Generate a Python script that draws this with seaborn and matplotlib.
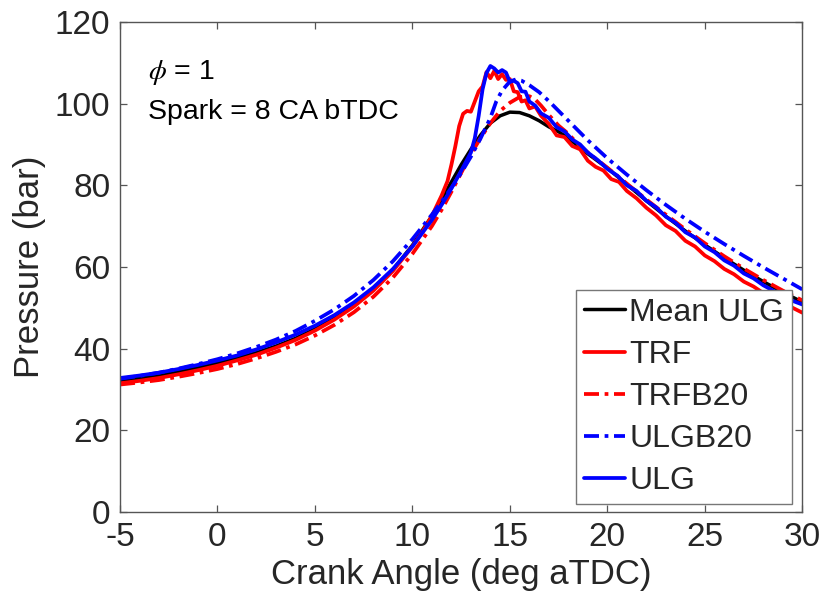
import numpy as np
import pandas as pd
import matplotlib
matplotlib.use("Agg")
import matplotlib.pyplot as plt
import seaborn as sns

# ---------------- data ----------------
ca_mean = [-5, -4, -3, -2, -1, 0, 1, 2, 3, 4, 5, 6, 7, 8, 9, 10, 11, 11.5, 12, 12.5, 13,
           13.5, 14, 14.5, 15, 15.5, 16, 16.5, 17, 17.5, 18, 19, 20, 21, 22, 23, 24, 25,
           26, 27, 28, 29, 30]
p_mean = [32.2, 32.8, 33.5, 34.3, 35.3, 36.4, 37.6, 39.0, 40.6, 42.5, 44.8, 47.4, 50.6,
          54.5, 59.3, 65.3, 72.5, 76.6, 80.8, 85.0, 88.8, 92.3, 95.2, 97.0, 97.9, 97.8,
          97.0, 95.8, 94.3, 93.1, 91.5, 87.7, 84.2, 80.2, 76.2, 72.4, 68.8, 65.4, 62.2,
          59.2, 56.4, 53.8, 51.4]

ca_trf = [-5, -4, -3, -2, -1, 0, 1, 2, 3, 4, 5, 6, 7, 8, 9, 10, 10.5, 11, 11.5, 11.8, 12.0,
          12.2, 12.4, 12.6, 12.8, 13.0, 13.2, 13.4, 13.6, 13.8, 14.0, 14.2, 14.4, 14.6,
          14.8, 15.0, 15.2, 15.4, 15.6, 15.8, 16.0, 16.3, 16.6, 17.0, 17.4, 17.8, 18.2,
          18.6, 19.0, 19.4, 19.8, 20.2, 20.6, 21.0, 21.5, 22, 22.5, 23, 23.5, 24, 24.5,
          25, 25.5, 26, 26.5, 27, 27.5, 28, 28.5, 29, 29.5, 30]
p_trf = [31.5, 32.1, 32.8, 33.7, 34.7, 35.8, 37.1, 38.5, 40.2, 42.1, 44.4, 47.1, 50.3,
         54.2, 59.0, 65.0, 68.5, 72.5, 77.5, 81.0, 85.0, 89.5, 94.5, 97.5, 98.2, 98.0,
         100.5, 103.0, 104.2, 107.7, 106.2, 108.0, 106.0, 107.2, 105.8, 106.0, 103.0,
         102.8, 100.5, 100.8, 98.8, 99.3, 97.0, 95.0, 92.2, 91.8, 89.6, 88.8, 86.0, 84.5,
         83.6, 81.5, 80.8, 78.6, 76.8, 74.5, 72.6, 70.2, 68.8, 66.4, 65.0, 62.8, 61.4,
         59.5, 58.2, 56.4, 55.2, 53.6, 52.4, 51.0, 50.0, 48.8]

ca_trfb20 = [-5, -4, -3, -2, -1, 0, 1, 2, 3, 4, 5, 6, 7, 8, 9, 10, 11, 11.5, 12, 12.5, 13,
             13.5, 14, 14.5, 15, 15.5, 16, 16.3, 16.6, 17, 17.5, 18, 18.5, 19, 20, 21, 22,
             23, 24, 25, 26, 27, 28, 29, 30]
p_trfb20 = [31.2, 31.7, 32.3, 33.1, 34.0, 35.0, 36.2, 37.6, 39.2, 41.0, 43.2, 45.8, 48.9,
            52.7, 57.4, 63.2, 70.0, 74.0, 78.4, 83.0, 87.6, 91.6, 95.2, 98.2, 100.2,
            101.6, 101.8, 101.0, 99.5, 97.2, 94.6, 92.6, 90.0, 88.0, 84.3, 80.4, 76.5,
            72.8, 69.2, 65.8, 62.6, 59.6, 56.8, 54.2, 51.8]

ca_ulgb20 = [-5, -4, -3, -2, -1, 0, 1, 2, 3, 4, 5, 6, 7, 8, 9, 10, 11, 11.5, 12, 12.5, 13,
             13.5, 14, 14.3, 14.6, 15.0, 15.3, 15.6, 16, 16.5, 17, 17.5, 18, 18.5, 19, 20,
             21, 22, 23, 24, 25, 26, 27, 28, 29, 30]
p_ulgb20 = [32.6, 33.3, 34.1, 35.1, 36.2, 37.4, 38.8, 40.4, 42.2, 44.3, 46.8, 49.6, 52.9,
            56.8, 61.4, 66.8, 72.8, 76.0, 79.4, 83.0, 87.0, 91.5, 96.5, 100.5, 103.2,
            105.4, 105.9, 105.6, 104.5, 102.8, 100.6, 98.2, 95.8, 93.4, 91.0, 86.6, 82.6,
            78.8, 75.2, 71.8, 68.6, 65.6, 62.7, 59.9, 57.2, 54.5]

ca_ulg = [-5, -4, -3, -2, -1, 0, 1, 2, 3, 4, 5, 6, 7, 8, 9, 10, 11, 11.5, 12, 12.5, 13,
          13.2, 13.4, 13.6, 13.8, 14.0, 14.2, 14.4, 14.6, 14.8, 15.0, 15.2, 15.4, 15.6,
          15.8, 16.0, 16.3, 16.6, 17.0, 17.4, 17.8, 18.2, 18.6, 19.0, 19.5, 20, 20.5, 21,
          21.5, 22, 22.5, 23, 23.5, 24, 24.5, 25, 25.5, 26, 26.5, 27, 27.5, 28, 28.5, 29,
          29.5, 30]
p_ulg = [32.8, 33.4, 34.1, 35.0, 36.0, 37.1, 38.3, 39.8, 41.5, 43.4, 45.6, 48.2, 51.3,
         55.0, 59.5, 65.0, 71.5, 75.2, 79.2, 83.5, 88.0, 91.5, 97.0, 103.5, 107.5, 109.2,
         108.6, 107.6, 108.2, 107.6, 105.3, 105.6, 105.0, 103.0, 102.9, 100.5, 99.5, 97.6,
         96.5, 94.2, 93.2, 91.2, 90.0, 88.0, 86.2, 84.0, 82.4, 80.0, 78.6, 76.2, 74.6,
         72.3, 70.8, 68.5, 67.2, 65.0, 63.6, 61.6, 60.3, 58.4, 57.2, 55.5, 54.2, 52.8,
         51.7, 50.8]

labels = ["Mean ULG", "TRF", "TRFB20", "ULGB20", "ULG"]
x_ticks = [-5, 0, 5, 10, 15, 20, 25, 30]
y_ticks = [0, 20, 40, 60, 80, 100, 120]

# ---------------- style ----------------
sns.set_style("ticks")
plt.rcParams["font.family"] = ["Liberation Sans", "DejaVu Sans"]
plt.rcParams["mathtext.fontset"] = "stix"
txt_col = "#262626"
spine_col = "#555555"

fig = plt.figure(figsize=(8.22, 6.08), dpi=100)
ax = fig.add_axes([0.146, 0.158, 0.830, 0.806])

dd = (0, (4, 1.5, 1, 1.5))
series = [
    (ca_mean, p_mean, "black", "-", 2.5),
    (ca_trf, p_trf, "#ff0000", "-", 2.7),
    (ca_trfb20, p_trfb20, "#ff0000", dd, 2.7),
    (ca_ulgb20, p_ulgb20, "#0000ff", dd, 2.7),
    (ca_ulg, p_ulg, "#0000ff", "-", 2.7),
]
for (xs, ys, col, ls, lw), lab in zip(series, labels):
    df = pd.DataFrame({"ca": xs, "p": ys})
    sns.lineplot(data=df, x="ca", y="p", ax=ax, color=col, linestyle=ls,
                 linewidth=lw, label=lab, errorbar=None, sort=False)

ax.set_xlim(-5, 30)
ax.set_ylim(0, 120)
ax.set_xticks(x_ticks)
ax.set_yticks(y_ticks)
ax.set_xticklabels([str(v) for v in x_ticks])
ax.set_yticklabels([str(v) for v in y_ticks])

for s in ax.spines.values():
    s.set_visible(True)
    s.set_color(spine_col)
    s.set_linewidth(1.0)
ax.tick_params(direction="in", length=5, width=0.9, color=spine_col,
               top=True, right=True, labelsize=24, labelcolor=txt_col, pad=7)

ax.set_xlabel("Crank Angle (deg aTDC)", fontsize=25, color=txt_col, labelpad=4)
ax.set_ylabel("Pressure (bar)", fontsize=25, color=txt_col, labelpad=6)

ax.text(-3.56, 107.7, r"$\phi$ = 1", fontsize=20.5, color="black", va="center", ha="left")
ax.text(-3.56, 97.9, "Spark = 8 CA bTDC", fontsize=20.5, color="black", va="center", ha="left")

handles, labs = ax.get_legend_handles_labels()
leg = ax.legend(handles, labs, loc="lower right", bbox_to_anchor=(0.985, 0.016),
                borderaxespad=0, fontsize=23, frameon=True, fancybox=False,
                framealpha=1, edgecolor="#777777", handlelength=1.3,
                handletextpad=0.12, labelspacing=0.38, borderpad=0.25)
leg.get_frame().set_linewidth(1.0)

fig.savefig("out.png", dpi=100)
